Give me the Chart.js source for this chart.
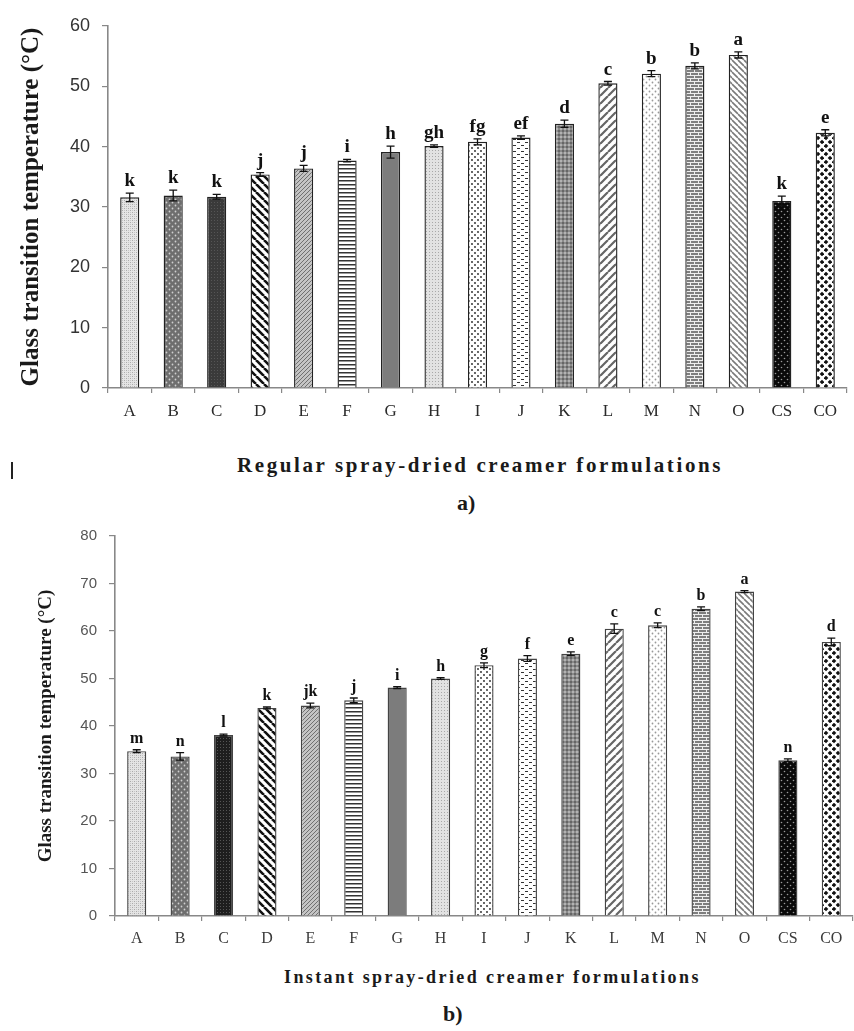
<!DOCTYPE html>
<html>
<head>
<meta charset="utf-8">
<script src="https://cdn.jsdelivr.net/npm/chart.js@4.4.1/dist/chart.umd.min.js"></script>
<style>
    body { margin: 0; background: #fff; }
    #wrap { position: relative; width: 854px; height: 1031px; overflow: hidden; }
    canvas { position: absolute; left: 0; }
    .xtitle, .panel {
        position: absolute; left: 0; width: 100%;
        font-family: "Liberation Serif", "DejaVu Serif", serif;
        font-weight: bold; color: #1a1a1a; white-space: nowrap;
        transform: translateY(-50%);
    }
    .mark { position: absolute; left: 11px; top: 462px; width: 2px; height: 17px; background: #222; }
</style>
</head>
<body>
<div id="wrap">
    <canvas id="chartRegular" style="top:0"></canvas>
    <div class="xtitle" style="top:465px; left:237px; width:auto; font-size:21px; letter-spacing:2.6px;">Regular spray-dried creamer formulations</div>
    <div class="panel" style="top:503px; left:457px; width:auto; font-size:22px;">a)</div>
    <div class="mark"></div>
    <canvas id="chartInstant" style="top:515px"></canvas>
    <div class="xtitle" style="top:977px; left:284px; width:auto; font-size:18px; letter-spacing:2.4px;">Instant spray-dried creamer formulations</div>
    <div class="panel" style="top:1014px; left:443px; width:auto; font-size:22px;">b)</div>
</div>
<script>
/*
 * Glass transition temperature of spray-dried creamer formulations
 * a) regular, b) instant — bars with SD error bars and significance letters
 */

const categories = ['A', 'B', 'C', 'D', 'E', 'F', 'G', 'H', 'I', 'J', 'K', 'L', 'M', 'N', 'O', 'CS', 'CO'];

// a) Regular spray-dried
const regularTg = [31.6, 31.9, 31.7, 35.4, 36.4, 37.7, 39.1, 40.1, 40.8, 41.5, 43.8, 50.5, 52.1, 53.4, 55.2, 31.0, 42.3];
const regularSd = [0.7, 0.9, 0.4, 0.3, 0.5, 0.2, 1.0, 0.2, 0.5, 0.3, 0.6, 0.3, 0.5, 0.5, 0.5, 0.8, 0.5];
const regularLetters = ['k', 'k', 'k', 'j', 'j', 'i', 'h', 'gh', 'fg', 'ef', 'd', 'c', 'b', 'b', 'a', 'k', 'e'];
const regularTicks = [0, 10, 20, 30, 40, 50, 60];

// b) Instant spray-dried
const instantTg = [34.7, 33.6, 38.1, 43.8, 44.3, 45.4, 48.1, 50.0, 52.8, 54.2, 55.2, 60.5, 61.2, 64.7, 68.3, 32.8, 57.7];
const instantSd = [0.3, 0.8, 0.2, 0.2, 0.5, 0.5, 0.2, 0.2, 0.5, 0.6, 0.4, 1.0, 0.5, 0.4, 0.2, 0.3, 0.8];
const instantLetters = ['m', 'n', 'l', 'k', 'jk', 'j', 'i', 'h', 'g', 'f', 'e', 'c', 'c', 'b', 'a', 'n', 'd'];
const instantTicks = [0, 10, 20, 30, 40, 50, 60, 70, 80];

const SERIF = '"Liberation Serif", "DejaVu Serif", serif';
const SANS = '"Liberation Sans", "DejaVu Sans", sans-serif';

/**
 * Make a repeating fill from a small tile
 */
function tile(w, h, draw) {
    const c = document.createElement('canvas');
    c.width = w;
    c.height = h;
    const g = c.getContext('2d');
    draw(g, w, h);
    return g.createPattern(c, 'repeat');
}

function dots(g, color, r, pts) {
    g.fillStyle = color;
    pts.forEach(p => {
        g.beginPath();
        g.arc(p[0], p[1], r, 0, Math.PI * 2);
        g.fill();
    });
}

function diag(g, w, color, lw, back) {
    g.strokeStyle = color;
    g.lineWidth = lw;
    g.beginPath();
    for (let k = -w; k <= w; k += w) {
        if (back) { g.moveTo(k, 0); g.lineTo(k + w, w); }
        else { g.moveTo(k, w); g.lineTo(k + w, 0); }
    }
    g.stroke();
}

// One hatch per formulation (same order as categories)
function buildFills(darkC) {
    return [
        tile(4, 4, g => { g.fillStyle = '#e4e4e4'; g.fillRect(0, 0, 4, 4); g.fillStyle = '#aaa'; g.fillRect(0, 0, 1, 1); g.fillRect(2, 2, 1, 1); g.fillStyle = '#c6c6c6'; g.fillRect(2, 0, 1, 1); g.fillRect(0, 2, 1, 1); }),
        tile(6, 6, g => { g.fillStyle = '#6e6e6e'; g.fillRect(0, 0, 6, 6); dots(g, '#cfcfcf', 0.9, [[1.5, 1.5], [4.5, 4.5]]); }),
        tile(3, 3, g => { g.fillStyle = darkC; g.fillRect(0, 0, 3, 3); g.fillStyle = '#555'; g.fillRect(1, 1, 1, 1); }),
        tile(8, 8, g => { g.fillStyle = '#fff'; g.fillRect(0, 0, 8, 8); diag(g, 8, '#111', 2.6, true); }),
        tile(4, 4, g => { g.fillStyle = '#c4c4c4'; g.fillRect(0, 0, 4, 4); diag(g, 4, '#707070', 1, false); }),
        tile(4, 4, g => { g.fillStyle = '#fff'; g.fillRect(0, 0, 4, 4); g.fillStyle = '#333'; g.fillRect(0, 0, 4, 1.5); }),
        tile(2, 2, g => { g.fillStyle = '#7c7c7c'; g.fillRect(0, 0, 2, 2); }),
        tile(3, 3, g => { g.fillStyle = '#e2e2e2'; g.fillRect(0, 0, 3, 3); g.fillStyle = '#a8a8a8'; g.fillRect(0, 0, 1, 1); }),
        tile(6, 6, g => { g.fillStyle = '#fff'; g.fillRect(0, 0, 6, 6); dots(g, '#222', 0.9, [[1, 1], [4, 4]]); }),
        tile(8, 6, g => { g.fillStyle = '#fff'; g.fillRect(0, 0, 8, 6); g.fillStyle = '#333'; g.fillRect(1, 1, 3, 1); g.fillRect(5, 4, 3, 1); }),
        tile(4, 4, g => { g.fillStyle = '#8a8a8a'; g.fillRect(0, 0, 4, 4); dots(g, '#e8e8e8', 0.8, [[1, 1]]); dots(g, '#3a3a3a', 0.8, [[3, 3]]); }),
        tile(8, 8, g => { g.fillStyle = '#fff'; g.fillRect(0, 0, 8, 8); diag(g, 8, '#666', 2.2, false); }),
        tile(6, 6, g => { g.fillStyle = '#fff'; g.fillRect(0, 0, 6, 6); dots(g, '#999', 0.9, [[1.5, 1.5], [4.5, 4.5]]); }),
        tile(8, 6, g => { g.fillStyle = '#7e7e7e'; g.fillRect(0, 0, 8, 6); g.fillStyle = '#eee'; g.fillRect(0, 0, 8, 1); g.fillRect(0, 3, 8, 1); g.fillRect(2, 0, 1, 3); g.fillRect(6, 3, 1, 3); }),
        tile(6, 6, g => { g.fillStyle = '#fff'; g.fillRect(0, 0, 6, 6); diag(g, 6, '#7a7a7a', 1.6, true); }),
        tile(6, 6, g => { g.fillStyle = '#0a0a0a'; g.fillRect(0, 0, 6, 6); dots(g, '#9a9a9a', 0.8, [[1.5, 1.5], [4.5, 4.5]]); }),
        tile(8, 8, g => {
            g.fillStyle = '#fff'; g.fillRect(0, 0, 8, 8); g.fillStyle = '#111';
            [[2, 2], [6, 6]].forEach(p => { g.beginPath(); g.moveTo(p[0], p[1] - 2.3); g.lineTo(p[0] + 2.3, p[1]); g.lineTo(p[0], p[1] + 2.3); g.lineTo(p[0] - 2.3, p[1]); g.closePath(); g.fill(); });
        })
    ];
}

/**
 * Error bars and significance letters on top of each bar
 */
const errorBarPlugin = {
    id: 'errorBars',
    afterDatasetsDraw(chart) {
        const ds = chart.data.datasets[0];
        const meta = chart.getDatasetMeta(0);
        const y = chart.scales.y;
        const opts = chart.options.plugins.errorBars;
        const ctx = chart.ctx;
        ctx.save();
        ctx.strokeStyle = '#111';
        ctx.lineWidth = 1.3;
        meta.data.forEach((bar, i) => {
            const v = ds.data[i];
            const sd = ds.errors[i];
            const yTop = y.getPixelForValue(v + sd);
            const yBot = y.getPixelForValue(v - sd);
            ctx.beginPath();
            ctx.moveTo(bar.x, yTop);
            ctx.lineTo(bar.x, yBot);
            ctx.moveTo(bar.x - 4, yTop);
            ctx.lineTo(bar.x + 4, yTop);
            ctx.moveTo(bar.x - 4, yBot);
            ctx.lineTo(bar.x + 4, yBot);
            ctx.stroke();

            ctx.fillStyle = '#111';
            ctx.font = 'bold ' + opts.fontSize + 'px ' + SERIF;
            ctx.textAlign = 'center';
            ctx.textBaseline = 'alphabetic';
            ctx.fillText(ds.letters[i], bar.x, yTop - opts.gap);
        });
        ctx.restore();
    }
};

/**
 * Build one panel
 */
function makeChart(id, height, values, sds, letters, ticks, cfg) {
    const ctx = document.getElementById(id);
    ctx.width = 854;
    ctx.height = height;

    return new Chart(ctx, {
        type: 'bar',
        data: {
            labels: categories,
            datasets: [{
                data: values,
                errors: sds,
                letters: letters,
                backgroundColor: buildFills(cfg.darkC),
                borderColor: cfg.barBorder,
                borderWidth: 1.4,
                barPercentage: 0.44,
                categoryPercentage: 1
            }]
        },
        options: {
            responsive: false,
            animation: false,
            layout: { padding: { top: cfg.padTop, right: cfg.padRight, left: 0, bottom: 0 } },
            plugins: {
                legend: { display: false },
                tooltip: { enabled: false },
                errorBars: { fontSize: cfg.letterSize, gap: cfg.letterGap }
            },
            scales: {
                x: {
                    grid: { drawOnChartArea: false, tickLength: 5, color: '#888', lineWidth: 1.2 },
                    border: { color: '#888', width: 1.6 },
                    ticks: { color: cfg.xColor, padding: cfg.xPad, font: { family: SERIF, size: cfg.xSize }, autoSkip: false, maxRotation: 0 },
                    afterFit: s => { s.height = cfg.xHeight; }
                },
                y: {
                    min: 0,
                    max: ticks[ticks.length - 1],
                    afterBuildTicks: s => { s.ticks = ticks.map(v => ({ value: v })); },
                    grid: { drawOnChartArea: false, tickLength: 6, color: '#888', lineWidth: 1.2 },
                    border: { color: '#888', width: 1.6 },
                    ticks: { color: cfg.yColor, padding: cfg.yPad, font: { family: SANS, size: cfg.ySize } },
                    title: {
                        display: true,
                        text: 'Glass transition temperature (°C)',
                        color: '#1a1a1a',
                        font: { family: SERIF, size: cfg.titleSize, weight: 'bold' },
                        padding: { top: cfg.titlePad, bottom: 0 }
                    },
                    afterFit: s => { s.width = cfg.yWidth; }
                }
            }
        },
        plugins: [errorBarPlugin]
    });
}

makeChart('chartRegular', 440, regularTg, regularSd, regularLetters, regularTicks, {
    darkC: '#3a3a3a', barBorder: '#222',
    padTop: 26, padRight: 7, xHeight: 52, yWidth: 108,
    xColor: '#2a2a2a', xSize: 17, xPad: 8,
    yColor: '#333', ySize: 18, yPad: 12,
    titleSize: 25, titlePad: 17,
    letterSize: 19, letterGap: 7
});

makeChart('chartInstant', 440, instantTg, instantSd, instantLetters, instantTicks, {
    darkC: '#1e1e1e', barBorder: '#444',
    padTop: 14, padRight: 1, xHeight: 39, yWidth: 115,
    xColor: '#3a3a3a', xSize: 16, xPad: 8,
    yColor: '#555', ySize: 15, yPad: 12,
    titleSize: 19, titlePad: 35,
    letterSize: 16, letterGap: 7
});
</script>
</body>
</html>
